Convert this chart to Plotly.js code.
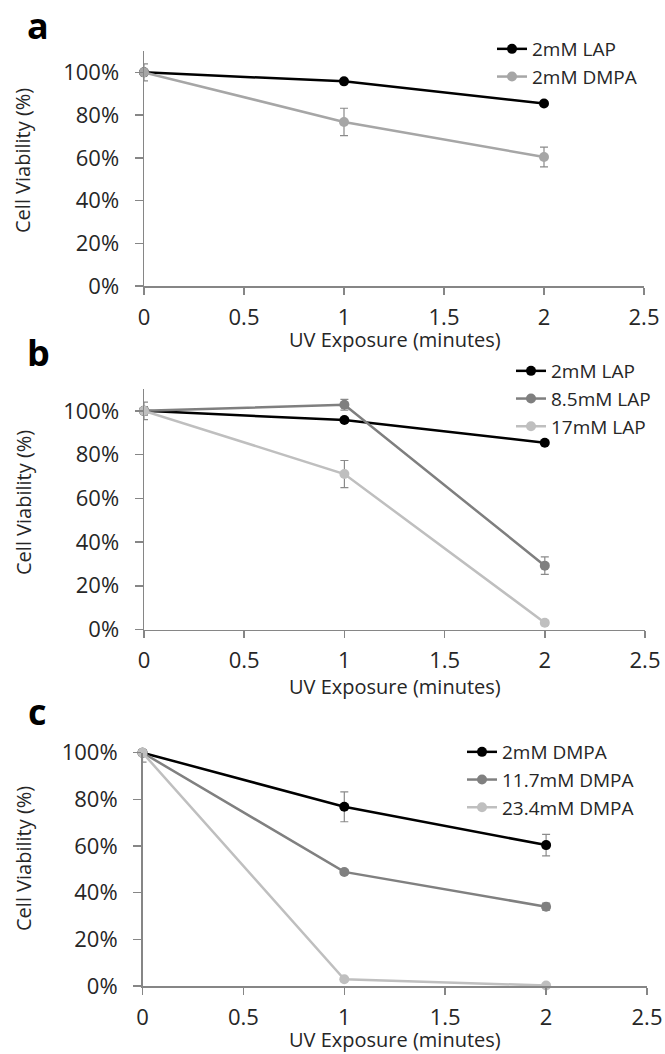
<!DOCTYPE html>
<html>
<head>
<meta charset="utf-8">
<script src="https://cdn.plot.ly/plotly-3.0.1.min.js"></script>
<style>html,body{margin:0;padding:0;background:#fff;}#chart{width:665px;height:1054px;}</style>
</head>
<body>
<div id="chart"></div>
<script>
// ---- data ----
const uvMinutes = [0, 1, 2];

// panel a
const lap2 = [1.0, 0.958, 0.854];
const lap2Err = [0.0, 0.01, 0.01];
const dmpa2 = [1.0, 0.768, 0.604];
const dmpa2Err = [0.04, 0.064, 0.046];

// panel b
const lap85 = [1.0, 1.028, 0.292];
const lap85Err = [0.02, 0.025, 0.04];
const lap17 = [1.0, 0.711, 0.031];
const lap17Err = [0.04, 0.062, 0.01];

// panel c
const dmpa117 = [1.0, 0.489, 0.340];
const dmpa117Err = [0.01, 0.01, 0.015];
const dmpa234 = [1.0, 0.029, 0.002];
const dmpa234Err = [0.01, 0.005, 0.003];

const xTicks = [0, 0.5, 1, 1.5, 2, 2.5];
const xTickText = ['0', '0.5', '1', '1.5', '2', '2.5'];
const yTicks = [0, 0.2, 0.4, 0.6, 0.8, 1.0];
const yTickText = ['0%', '20%', '40%', '60%', '80%', '100%'];
const panelLabels = ['a', 'b', 'c'];
const xTitle = 'UV Exposure (minutes)';
const yTitle = 'Cell Viability (%)';

// ---- helpers ----
const W = 665, H = 1054;
const px = v => v / W;
const py = v => 1 - v / H;
const FONT = 'Open Sans, Lato, sans-serif';
const TXT = '#262626';
const AX = '#868686';

function series(x, y, err, name, color, xa, ya, leg) {
  return {
    x: x, y: y, name: name, type: 'scatter', mode: 'lines+markers',
    xaxis: xa, yaxis: ya, legend: leg, cliponaxis: false,
    line: {color: color, width: 2.5},
    marker: {color: color, size: 10, symbol: 'circle'},
    error_y: {type: 'data', array: err, visible: true, color: '#8a8a8a', thickness: 1.2, width: 4}
  };
}

const data = [
  series(uvMinutes, lap2, lap2Err, '2mM LAP', '#000000', 'x', 'y', 'legend'),
  series(uvMinutes, dmpa2, dmpa2Err, '2mM DMPA', '#a6a6a6', 'x', 'y', 'legend'),
  series(uvMinutes, lap2, lap2Err, '2mM LAP', '#000000', 'x2', 'y2', 'legend2'),
  series(uvMinutes, lap85, lap85Err, '8.5mM LAP', '#7f7f7f', 'x2', 'y2', 'legend2'),
  series(uvMinutes, lap17, lap17Err, '17mM LAP', '#bfbfbf', 'x2', 'y2', 'legend2'),
  series(uvMinutes, dmpa2, dmpa2Err, '2mM DMPA', '#000000', 'x3', 'y3', 'legend3'),
  series(uvMinutes, dmpa117, dmpa117Err, '11.7mM DMPA', '#808080', 'x3', 'y3', 'legend3'),
  series(uvMinutes, dmpa234, dmpa234Err, '23.4mM DMPA', '#bfbfbf', 'x3', 'y3', 'legend3')
];

function xAxis(domain, anchor) {
  return {
    domain: domain, anchor: anchor, range: [0, 2.5], tickvals: xTicks, ticktext: xTickText,
    showline: true, linecolor: AX, linewidth: 1.5, ticks: 'outside', ticklen: 7, tickwidth: 1.5, tickcolor: AX,
    showgrid: false, zeroline: false, ticklabelstandoff: 4,
    tickfont: {family: FONT, size: 22, color: TXT}, fixedrange: true
  };
}
function yAxis(domain, anchor, top) {
  return {
    domain: domain, anchor: anchor, range: [0, top], tickvals: yTicks, ticktext: yTickText,
    showline: true, linecolor: AX, linewidth: 1.5, ticks: 'outside', ticklen: 8, tickwidth: 1.5, tickcolor: AX,
    showgrid: false, zeroline: false, ticklabelstandoff: 11,
    tickfont: {family: FONT, size: 22, color: TXT}, fixedrange: true
  };
}
function legend(x, y) {
  return {
    x: px(x), y: py(y), xanchor: 'left', yanchor: 'top', bgcolor: 'rgba(0,0,0,0)',
    font: {family: FONT, size: 19, color: TXT}, tracegroupgap: 0, itemclick: false
  };
}

const annotations = [];
const labelPos = [[38, 26], [38, 352], [37, 711]];
panelLabels.forEach((t, i) => annotations.push({
  text: '<b>' + t + '</b>', x: px(labelPos[i][0]), y: py(labelPos[i][1]), xref: 'paper', yref: 'paper',
  xanchor: 'center', yanchor: 'middle', showarrow: false, font: {family: FONT, size: 36, color: '#000'}
}));
[161, 503, 859].forEach(c => annotations.push({
  text: yTitle, x: px(23), y: py(c), xref: 'paper', yref: 'paper', textangle: -90,
  xanchor: 'center', yanchor: 'middle', showarrow: false, font: {family: FONT, size: 20, color: TXT}
}));
[339, 686, 1039].forEach(c => annotations.push({
  text: xTitle, x: px(395), y: py(c), xref: 'paper', yref: 'paper',
  xanchor: 'center', yanchor: 'middle', showarrow: false, font: {family: FONT, size: 20, color: TXT}
}));

const layout = {
  width: W, height: H, margin: {l: 0, r: 0, t: 0, b: 0},
  paper_bgcolor: '#fff', plot_bgcolor: 'rgba(0,0,0,0)', showlegend: true,
  font: {family: FONT, color: TXT},
  xaxis: xAxis([px(144), px(644)], 'y'),
  yaxis: yAxis([py(286), py(51)], 'x', 1.1),
  xaxis2: xAxis([px(144), px(645)], 'y2'),
  yaxis2: yAxis([py(629.5), py(389)], 'x2', 1.1),
  xaxis3: xAxis([px(142.5), px(647)], 'y3'),
  yaxis3: yAxis([py(986), py(752.7)], 'x3', 1.0),
  legend: legend(492, 30),
  legend2: legend(511, 352),
  legend3: legend(462, 733),
  annotations: annotations
};

Plotly.newPlot('chart', data, layout, {displayModeBar: false, staticPlot: true});
</script>
</body>
</html>
